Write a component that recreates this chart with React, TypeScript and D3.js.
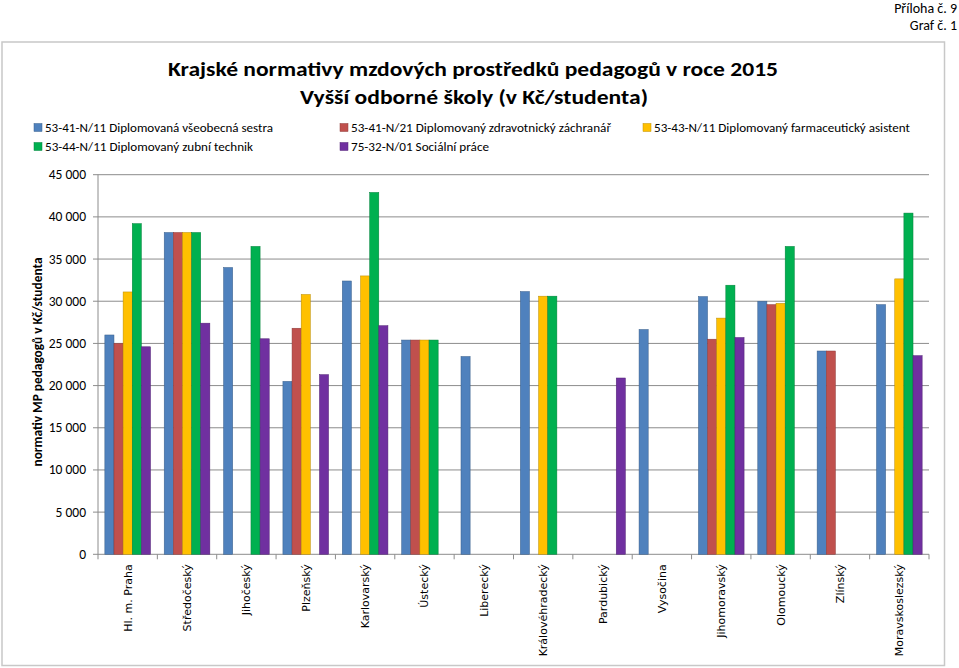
import React from "react";
import * as d3 from "d3";

const categories = ["Hl. m. Praha","Středočeský","Jihočeský","Plzeňský","Karlovarský","Ústecký","Liberecký","Královéhradecký","Pardubický","Vysočina","Jihomoravský","Olomoucký","Zlínský","Moravskoslezský"];
const seriesNames = [
  "53-41-N/11 Diplomovaná všeobecná sestra",
  "53-41-N/21 Diplomovaný zdravotnický záchranář",
  "53-43-N/11 Diplomovaný farmaceutický asistent",
  "53-44-N/11 Diplomovaný zubní technik",
  "75-32-N/01 Sociální práce",
];
const sestra = [26000,38150,34000,20500,32400,25400,23450,31150,null,26650,30550,30000,24100,29600];
const zachranar = [25000,38150,null,26800,null,25400,null,null,null,null,25500,29600,24100,null];
const farmaceut = [31100,38150,null,30800,33000,25400,null,30600,null,null,28000,29750,null,32650];
const zubni = [39200,38150,36500,null,42900,25400,null,30600,null,null,31900,36500,null,40450];
const socialni = [24600,27400,25550,21300,27100,null,null,null,20900,null,25700,null,null,23550];
const yTicks = [0,5000,10000,15000,20000,25000,30000,35000,40000,45000];
const colors = ["#4F81BD","#C0504D","#FFC000","#00B050","#7030A0"];

const seriesValues = [sestra, zachranar, farmaceut, zubni, socialni];

const calibri = "Carlito, 'Liberation Sans Narrow', 'Liberation Sans', sans-serif";

export default function App() {
  const W = 959, H = 668;
  const left = 98, right = 929, top = 174.7, bottom = 554.3;
  const x = d3.scaleBand<string>().domain(categories).range([left, right]).padding(0);
  const xi = d3.scaleBand<number>().domain([0,1,2,3,4]).range([0, x.bandwidth()]).paddingInner(0).paddingOuter(0.75);
  const y = d3.scaleLinear().domain([0, 45000]).range([bottom, top]);
  const fmt = (v: number) => d3.format(",")(v).replace(/,/g, " ");

  const legendItems = [
    { i: 0, x: 34, y: 128, w: 228 },
    { i: 1, x: 340, y: 128, w: 260 },
    { i: 2, x: 643, y: 128, w: 256 },
    { i: 3, x: 34, y: 147, w: 208 },
    { i: 4, x: 340, y: 147, w: 138 },
  ];

  return (
    <svg width={W} height={H} style={{ position: "absolute", left: 0, top: 0, background: "#fff" }}>
      <text x={957} y={12.5} textAnchor="end" fontFamily={calibri} fontSize={14} fill="#000">Příloha č. 9</text>
      <text x={957} y={30} textAnchor="end" fontFamily={calibri} fontSize={14} fill="#000">Graf č. 1</text>
      <rect x={2} y={42} width={942.5} height={623.5} fill="#fff" stroke="#C8C8C8" strokeWidth={1.5} />
      <text x={473} y={76} textAnchor="middle" fontFamily={calibri} fontSize={21} fontWeight="bold" textLength={610} lengthAdjust="spacingAndGlyphs">Krajské normativy mzdových prostředků pedagogů v roce 2015</text>
      <text x={474} y={104} textAnchor="middle" fontFamily={calibri} fontSize={21} fontWeight="bold" textLength={348} lengthAdjust="spacingAndGlyphs">Vyšší odborné školy (v Kč/studenta)</text>
      {legendItems.map((l) => (
        <g key={l.i}>
          <rect x={l.x} y={l.y - 4.5} width={8} height={8} fill={colors[l.i]} stroke={d3.color(colors[l.i])!.darker(0.8).toString()} strokeWidth={0.5} />
          <text x={l.x + 11} y={l.y + 4} fontFamily={calibri} fontSize={12.5} textLength={l.w} lengthAdjust="spacingAndGlyphs">{seriesNames[l.i]}</text>
        </g>
      ))}
      {yTicks.map((t) => (
        <g key={t}>
          <line x1={left - 5} x2={right} y1={y(t)} y2={y(t)} stroke="#8C8C8C" strokeWidth={1} />
          <text x={86} y={y(t) + 4.5} textAnchor="end" fontFamily={calibri} fontSize={13.5}>{fmt(t)}</text>
        </g>
      ))}
      <line x1={left} x2={left} y1={top} y2={bottom} stroke="#8C8C8C" strokeWidth={1} />
      {categories.map((c, ci) => (
        <g key={c}>
          <line x1={x(c)!} x2={x(c)!} y1={bottom} y2={bottom + 5} stroke="#8C8C8C" />
          {ci === categories.length - 1 && (
            <line x1={x(c)! + x.bandwidth()} x2={x(c)! + x.bandwidth()} y1={bottom} y2={bottom + 5} stroke="#8C8C8C" />
          )}
          <text transform={`translate(${x(c)! + x.bandwidth() / 2 + 4},${bottom + 10}) rotate(-90)`} textAnchor="end" fontFamily="'DejaVu Sans', Verdana, sans-serif" fontSize={11}>{c}</text>
        </g>
      ))}
      {seriesValues.map((vals, si) =>
        vals.map((v, ci) =>
          v == null ? null : (
            <rect key={`${si}-${ci}`} x={x(categories[ci])! + xi(si)!} y={y(v)} width={xi.bandwidth()} height={bottom - y(v)} fill={colors[si]} stroke={d3.color(colors[si])!.darker(0.9).toString()} strokeWidth={0.5} />
          )
        )
      )}
      <text transform={`translate(42,362) rotate(-90)`} textAnchor="middle" fontFamily={calibri} fontSize={13} fontWeight="bold" textLength={209} lengthAdjust="spacingAndGlyphs">normativ MP pedagogů v Kč/studenta</text>
    </svg>
  );
}
